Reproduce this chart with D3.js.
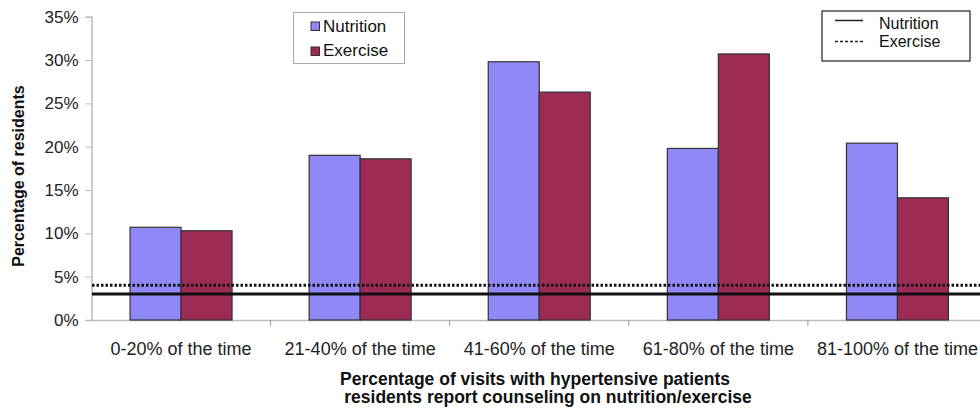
<!DOCTYPE html>
<html><head><meta charset="utf-8">
<script src="https://cdn.jsdelivr.net/npm/d3@7"></script>
<style>body{margin:0;background:#fff}svg{font-family:Arial,"Liberation Sans",sans-serif}</style>
</head><body><svg id="c" width="980" height="411"></svg>
<script>
const categories = ["0-20% of the time","21-40% of the time","41-60% of the time","61-80% of the time","81-100% of the time"];
const series = ["Nutrition","Exercise"];
const nutrition = [10.7, 19.0, 29.8, 19.8, 20.4];
const exercise = [10.3, 18.6, 26.3, 30.7, 14.1];
const refNutrition = 3.0;
const refExercise = 4.0;
const yTicks = [0,5,10,15,20,25,30,35];
const colors = {Nutrition:"#8f88f6", Exercise:"#9c2b55"};

const svg = d3.select("#c");
const x0 = d3.scaleBand().domain(categories).range([91.5, 987]).paddingInner(0).paddingOuter(0);
const x1 = d3.scaleBand().domain(series).range([0, 102]);
const y = d3.scaleLinear().domain([0,35]).range([320, 16.7]);
const data = categories.map((c,i)=>({c, Nutrition:nutrition[i], Exercise:exercise[i]}));

// y axis
const ya = svg.append("g").attr("transform","translate(91.5,0)")
  .call(d3.axisLeft(y).tickValues(yTicks).tickFormat(d=>d+"%").tickSize(6).tickPadding(7));
ya.select(".domain").attr("stroke","#bbb").attr("stroke-width",1.5);
ya.selectAll(".tick line").attr("stroke","#bbb");
ya.selectAll("text").attr("font-size",17).attr("fill","#222");

// x axis
const xa = svg.append("g").attr("transform","translate(0,320)")
  .call(d3.axisBottom(x0).tickSize(0).tickPadding(22));
xa.select(".domain").attr("stroke","#bbb").attr("stroke-width",1.5);
xa.selectAll("text").attr("font-size",18).attr("fill","#222");
xa.selectAll(".sep").data(categories.slice(1)).enter().append("line")
  .attr("x1",d=>x0(d)).attr("x2",d=>x0(d)).attr("y1",0).attr("y2",6).attr("stroke","#999");

// bars
const g = svg.append("g");
data.forEach(d=>{
  const off = x0(d.c) + (x0.bandwidth()-102)/2;
  series.forEach(s=>{
    g.append("rect").attr("x",off + x1(s)).attr("y",y(d[s])).attr("width",x1.bandwidth())
      .attr("height",y(0)-y(d[s])).attr("fill",colors[s]).attr("stroke","#333").attr("stroke-width",1.2);
  });
});

// reference lines
svg.append("line").attr("x1",92).attr("x2",980).attr("y1",y(refExercise)).attr("y2",y(refExercise))
  .attr("stroke","#111").attr("stroke-width",3).attr("stroke-dasharray","2.5,2");
svg.append("line").attr("x1",92).attr("x2",980).attr("y1",y(refNutrition)).attr("y2",y(refNutrition))
  .attr("stroke","#111").attr("stroke-width",3);

// legend 1
const l1 = svg.append("g");
l1.append("rect").attr("x",293.5).attr("y",12.5).attr("width",111).attr("height",51).attr("fill","#fff").attr("stroke","#aaa");
series.forEach((s,i)=>{
  l1.append("rect").attr("x",311).attr("y",22+i*25).attr("width",8.5).attr("height",8.5).attr("fill",colors[s]).attr("stroke","#333");
  l1.append("text").attr("x",323).attr("y",31.5+i*24.5).attr("font-size",17).attr("fill","#111").text(s);
});

// legend 2
const l2 = svg.append("g");
l2.append("rect").attr("x",822).attr("y",11).attr("width",148).attr("height",50).attr("fill","#fff").attr("stroke","#333").attr("stroke-width",1.3);
l2.append("line").attr("x1",835).attr("x2",863).attr("y1",20.5).attr("y2",20.5).attr("stroke","#222").attr("stroke-width",1.5);
l2.append("line").attr("x1",835).attr("x2",863).attr("y1",41.5).attr("y2",41.5).attr("stroke","#222").attr("stroke-width",1.5).attr("stroke-dasharray","3,2");
series.forEach((s,i)=>{
  l2.append("text").attr("x",879).attr("y",28.5+i*18.5).attr("font-size",16).attr("fill","#111").text(s);
});

// titles
svg.append("text").attr("transform","translate(24,176) rotate(-90)").attr("text-anchor","middle")
  .attr("font-size",16).attr("font-weight","bold").attr("fill","#111").text("Percentage of residents");
svg.append("text").attr("x",535).attr("y",384.5).attr("text-anchor","middle").attr("font-size",17.5).attr("font-weight","bold").attr("fill","#111")
  .text("Percentage of visits with hypertensive patients");
svg.append("text").attr("x",548).attr("y",403).attr("text-anchor","middle").attr("font-size",17.5).attr("font-weight","bold").attr("fill","#111")
  .text("residents report counseling on nutrition/exercise");
</script></body></html>
